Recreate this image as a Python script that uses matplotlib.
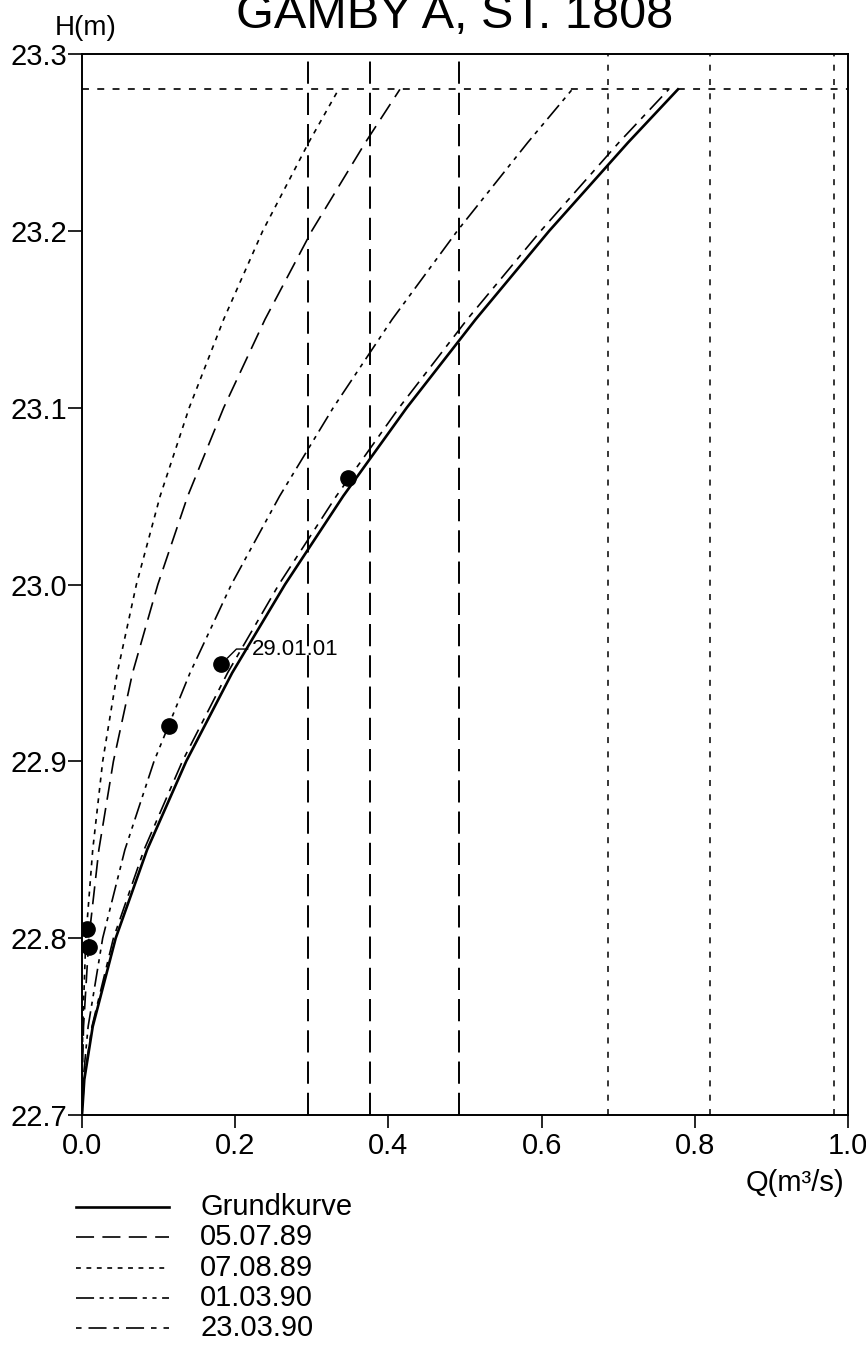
import matplotlib
matplotlib.use("Agg")
import matplotlib.pyplot as plt
from matplotlib.lines import Line2D

plt.rcParams['font.family'] = ['Liberation Sans', 'DejaVu Sans']
plt.rcParams['lines.scale_dashes'] = False

# Water levels (m) at which the rating curves are tabulated
H_LEVELS = [22.70, 22.72, 22.75, 22.80, 22.85, 22.90, 22.95,
            23.00, 23.05, 23.10, 23.15, 23.20, 23.25, 23.28]

# Discharge (m3/s) of each rating curve at those levels
Q_GRUND = [0.0, 0.003, 0.014, 0.044, 0.085, 0.136, 0.196,
           0.265, 0.341, 0.424, 0.514, 0.610, 0.713, 0.778]
Q_050789 = [0.0, 0.0003, 0.002, 0.009, 0.022, 0.041, 0.066,
            0.099, 0.138, 0.185, 0.239, 0.300, 0.370, 0.415]
Q_070889 = [0.0, 0.0001, 0.001, 0.005, 0.014, 0.027, 0.046,
            0.071, 0.102, 0.140, 0.185, 0.236, 0.296, 0.335]
Q_010390 = [0.0, 0.0015, 0.008, 0.027, 0.056, 0.094, 0.141,
            0.195, 0.258, 0.328, 0.405, 0.490, 0.582, 0.640]
Q_230390 = [0.0, 0.0028, 0.013, 0.041, 0.081, 0.131, 0.190,
            0.257, 0.332, 0.414, 0.503, 0.599, 0.701, 0.766]

# Discharge measurements
Q_MEAS = [0.007, 0.009, 0.113, 0.182, 0.347]
H_MEAS = [22.805, 22.795, 22.920, 22.955, 23.060]
MEAS_LABEL = "29.01.01"
MEAS_LABEL_IDX = 3

# Reference discharges (vertical lines) and top water level
Q_REF_LONG = [0.295, 0.376, 0.492]
Q_REF_SHORT = [0.687, 0.820, 0.982]
H_TOP = 23.28

X_TICKS = [0.0, 0.2, 0.4, 0.6, 0.8, 1.0]
Y_TICKS = [22.7, 22.8, 22.9, 23.0, 23.1, 23.2, 23.3]

SERIES = [
    ("Grundkurve", Q_GRUND, '-', 1.9),
    ("05.07.89", Q_050789, (0, (13, 6)), 1.2),
    ("07.08.89", Q_070889, (0, (3.5, 4)), 1.2),
    ("01.03.90", Q_010390, (0, (13, 4, 3, 4, 3, 4)), 1.2),
    ("23.03.90", Q_230390, (0, (4, 5, 13, 5)), 1.2),
]

W, H = 866, 1347
fig = plt.figure(figsize=(W / 100, H / 100), dpi=100)
fig.patch.set_facecolor('white')

ax_left, ax_right, ax_top, ax_bot = 82, 848, 54, 1115
ax = fig.add_axes([ax_left / W, 1 - ax_bot / H,
                   (ax_right - ax_left) / W, (ax_bot - ax_top) / H])
ax.set_xlim(0.0, 1.0)
ax.set_ylim(22.7, 23.3)

for q in Q_REF_LONG:
    ax.axvline(q, color='black', lw=1.4, linestyle=(0, (16, 6.5)))
for q in Q_REF_SHORT:
    ax.axvline(q, color='black', lw=1.1, linestyle=(0, (4.3, 6)))
ax.axhline(H_TOP, color='black', lw=1.2, linestyle=(0, (5, 6)))

for name, q, ls, lw in SERIES:
    ax.plot(q, H_LEVELS, color='black', linestyle=ls, lw=lw)

ax.plot(Q_MEAS, H_MEAS, 'o', color='black', ms=11, zorder=5)
ax.annotate(MEAS_LABEL,
            xy=(Q_MEAS[MEAS_LABEL_IDX], H_MEAS[MEAS_LABEL_IDX]),
            xytext=(0.222, 22.9635), textcoords='data',
            ha='left', va='center', fontsize=16,
            arrowprops=dict(arrowstyle='-', lw=1.0, color='black',
                            shrinkA=1, shrinkB=6,
                            connectionstyle='angle,angleA=0,angleB=45,rad=0'))

ax.set_xticks(X_TICKS)
ax.set_xticklabels([f"{v:.1f}" for v in X_TICKS])
ax.set_yticks(Y_TICKS)
ax.set_yticklabels([f"{v:.1f}" for v in Y_TICKS])
ax.tick_params(axis='x', direction='out', length=9, width=1.2,
               pad=3, labelsize=21)
ax.tick_params(axis='y', direction='out', length=10, width=1.2,
               pad=0.5, labelsize=21)
for sp in ax.spines.values():
    sp.set_linewidth(1.4)
    sp.set_color('black')

# Title and axis captions
fig.text(455 / W, 1 - 28 / H, "GAMBY A, ST. 1808", ha='center',
         va='baseline', fontsize=35)
fig.text(55 / W, 1 - 35 / H, "H(m)", ha='left', va='baseline', fontsize=20)
fig.text(844 / W, 1 - 1183 / H, "Q(m³/s)", ha='right', va='center',
         fontsize=21)

# Legend below the plot
row0, row_step = 1207, 30.3
for i, (name, q, ls, lw) in enumerate(SERIES):
    y = 1 - (row0 + i * row_step) / H
    fig.add_artist(Line2D([76 / W, 169 / W], [y, y], color='black',
                          linestyle=ls, lw=lw, transform=fig.transFigure))
    fig.text(200 / W, y, name, ha='left', va='center', fontsize=21)

fig.savefig("out.png", dpi=100, facecolor='white')
